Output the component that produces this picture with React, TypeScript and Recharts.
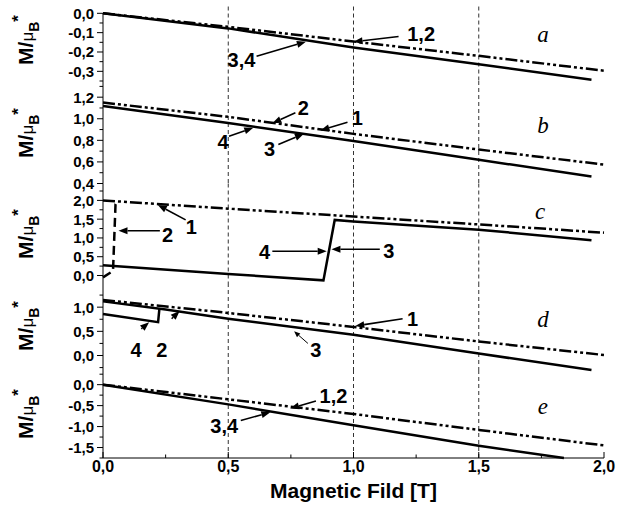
import React from 'react';
import { LineChart, Line, XAxis, YAxis, ReferenceLine, ReferenceDot } from 'recharts';

const W = 617;
const H = 513;
const SANS = '"Liberation Sans", Arial, sans-serif';
const SERIF = '"Liberation Serif", "Times New Roman", serif';
const DASH_DOT2 = '12 3 3 3 3 3';
const DASHED = '9 5';

const guideLines = [0.5, 1.0, 1.5];
const fieldTicks = [0, 0.25, 0.5, 0.75, 1, 1.25, 1.5, 1.75, 2];
const fieldMajor = [0, 0.5, 1, 1.5, 2];

// panel a
const aMajor = [0, -0.1, -0.2, -0.3];
const aMinor = [-0.05, -0.15, -0.25, -0.35];
const a12X = [0, 0.5, 1.0, 1.5, 2.0];
const a12Y = [0, -0.07, -0.146, -0.22, -0.297];
const a34X = [0, 0.5, 1.0, 1.5, 1.95];
const a34Y = [0, -0.078, -0.177, -0.263, -0.344];

// panel b
const bMajor = [1.2, 1.0, 0.8, 0.6, 0.4];
const bMinor = [1.3, 1.1, 0.9, 0.7, 0.5];
const b12X = [0, 0.5, 1.0, 1.5, 2.0];
const b12Y = [1.15, 1.018, 0.86, 0.715, 0.575];
const b34X = [0, 0.5, 1.0, 1.5, 1.95];
const b34Y = [1.118, 0.96, 0.794, 0.62, 0.465];

// panel c
const cMajor = [2.0, 1.5, 1.0, 0.5, 0.0];
const cMinor = [2.25, 1.75, 1.25, 0.75, 0.25];
const c1X = [0, 0.5, 1.0, 1.5, 2.0];
const c1Y = [2.0, 1.78, 1.57, 1.36, 1.14];
const c2X = [0, 0.04, 0.05, 0.06];
const c2Y = [-0.05, 0.12, 1.9, 2.0];
const c34X = [0, 0.5, 0.88, 0.925, 1.0, 1.5, 1.95];
const c34Y = [0.27, 0.04, -0.13, 1.48, 1.44, 1.22, 0.94];

// panel d
const dMajor = [1.0, 0.5, 0.0];
const dMinor = [1.25, 0.75, 0.25, -0.25];
const d1X = [0, 0.5, 1.0, 1.5, 2.0];
const d1Y = [1.15, 0.88, 0.59, 0.29, 0.01];
const d3X = [0, 0.25, 0.5, 1.0, 1.5, 1.95];
const d3Y = [1.12, 0.95, 0.76, 0.43, 0.04, -0.3];
const d4X = [0, 0.22, 0.225];
const d4Y = [0.86, 0.69, 0.96];

// panel e
const eMajor = [0, -0.5, -1.0, -1.5];
const eMinor = [0.25, -0.25, -0.75, -1.25, -1.75];
const e12X = [0, 0.5, 1.0, 1.5, 2.0];
const e12Y = [0, -0.35, -0.7, -1.08, -1.45];
const e34X = [0, 0.5, 1.0, 1.5, 1.84];
const e34Y = [0, -0.47, -0.97, -1.46, -1.75];

type Curve = { xs: number[]; ys: number[]; dash?: string };
type Note = { text: string; at: [number, number]; from?: [number, number]; to?: [number, number]; thin?: boolean };

const toPts = (xs: number[], ys: number[]) => xs.map((x, i) => ({ x, y: ys[i] }));
const fmt = (v: number) => v.toFixed(1).replace('.', ',');
const isIn = (list: number[], v: number) => list.some((m) => Math.abs(m - v) < 1e-6);

const makeYTick = (major: number[]) => (props: any) => {
  const { x, y, payload } = props;
  const big = isIn(major, payload.value);
  return (
    <g>
      <line x1={x - (big ? 6 : 3.5)} x2={x} y1={y} y2={y} stroke="#000" />
      {big && (
        <text x={x - 9} y={y} dy="0.36em" textAnchor="end" fontFamily={SANS} fontWeight="bold" fontSize={15} fill="#000">
          {fmt(payload.value)}
        </text>
      )}
    </g>
  );
};

const TopTick = (props: any) => {
  const { x, y, payload } = props;
  const len = isIn(fieldMajor, payload.value) ? 5 : 3.5;
  return <line x1={x} x2={x} y1={y} y2={y + len} stroke="#000" />;
};

const BottomTick = (props: any) => {
  const { x, y, payload } = props;
  const big = isIn(fieldMajor, payload.value);
  return (
    <g>
      <line x1={x} x2={x} y1={y} y2={y - (big ? 6 : 3.5)} stroke="#000" />
      {big && (
        <text x={x} y={y + 14} textAnchor="middle" fontFamily={SANS} fontWeight="bold" fontSize={16} fill="#000">
          {fmt(payload.value)}
        </text>
      )}
    </g>
  );
};

const arrow = (thin?: boolean) => (p: any) => {
  const { x1, y1, x2, y2 } = p;
  const ang = Math.atan2(y2 - y1, x2 - x1);
  const L = thin ? 6 : 9;
  const hw = thin ? 2.5 : 3.5;
  const bx = x2 - L * Math.cos(ang);
  const by = y2 - L * Math.sin(ang);
  const px = -Math.sin(ang) * hw;
  const py = Math.cos(ang) * hw;
  return (
    <g>
      <line x1={x1} y1={y1} x2={bx} y2={by} stroke="#000" strokeWidth={thin ? 1 : 1.6} />
      <polygon points={`${x2},${y2} ${bx + px},${by + py} ${bx - px},${by - py}`} fill="#000" />
    </g>
  );
};

interface PanelProps {
  top: number;
  bottom: number;
  domain: [number, number];
  major: number[];
  minor: number[];
  curves: Curve[];
  notes: Note[];
  letter: string;
  letterAt: [number, number];
  labelY: number;
  kind: 'first' | 'mid' | 'last';
}

function YLabel({ cy }: { cy: number }) {
  return (
    <text transform={`translate(33, ${cy}) rotate(-90)`} textAnchor="middle" fontFamily={SANS} fontWeight="bold" fontSize={21} fill="#000">
      M/
      <tspan fontSize={17} fontWeight="normal">μ</tspan>
      <tspan fontSize={14} dy={6}>B</tspan>
      <tspan fontSize={17} dy={-15}>*</tspan>
    </text>
  );
}

function Panel(p: PanelProps) {
  const last = p.kind === 'last';
  const margin = { top: p.top, right: 13, left: 0, bottom: last ? 0 : H - p.bottom };
  const ticks = [...p.major, ...p.minor].sort((a, b) => a - b);
  return (
    <div style={{ position: 'absolute', left: 0, top: 0 }}>
      <LineChart width={W} height={H} margin={margin}>
        {p.kind === 'first' && (
          <XAxis xAxisId="m" dataKey="x" type="number" domain={[0, 2]} height={0} tick={false} tickLine={false} axisLine={{ stroke: '#000' }} />
        )}
        {p.kind === 'mid' && (
          <XAxis
            xAxisId="m"
            dataKey="x"
            type="number"
            orientation="top"
            domain={[0, 2]}
            height={0}
            ticks={fieldTicks}
            interval={0}
            tickSize={0}
            tickMargin={0}
            tickLine={false}
            tick={TopTick}
            axisLine={{ stroke: '#000' }}
          />
        )}
        {last && (
          <XAxis
            xAxisId="t"
            dataKey="x"
            type="number"
            orientation="top"
            domain={[0, 2]}
            height={0}
            ticks={fieldTicks}
            interval={0}
            tickSize={0}
            tickMargin={0}
            tickLine={false}
            tick={TopTick}
            axisLine={{ stroke: '#000' }}
          />
        )}
        {last && (
          <XAxis
            xAxisId="m"
            dataKey="x"
            type="number"
            domain={[0, 2]}
            height={H - p.bottom}
            ticks={fieldTicks}
            interval={0}
            tickSize={0}
            tickMargin={0}
            tickLine={false}
            tick={BottomTick}
            axisLine={{ stroke: '#000' }}
            label={(lp: any) => {
              const vb = lp.viewBox || {};
              return (
                <text x={vb.x + vb.width / 2} y={p.bottom + 40} textAnchor="middle" fontFamily={SANS} fontWeight="bold" fontSize={21} fill="#000">
                  Magnetic Fild [T]
                </text>
              );
            }}
          />
        )}
        <YAxis
          type="number"
          domain={p.domain}
          ticks={ticks}
          interval={0}
          width={103}
          tickSize={0}
          tickMargin={0}
          tickLine={false}
          tick={makeYTick(p.major)}
          axisLine={{ stroke: '#000' }}
          label={() => <YLabel cy={p.labelY} />}
        />
        {guideLines.map((g) =>
          p.kind === 'first' ? (
            <ReferenceLine
              key={g}
              xAxisId="m"
              segment={[{ x: g, y: p.domain[1] + 0.035 }, { x: g, y: p.domain[0] }]}
              ifOverflow="visible"
              stroke="#333"
              strokeDasharray="4 3"
            />
          ) : (
            <ReferenceLine key={g} xAxisId="m" x={g} stroke="#333" strokeDasharray="4 3" />
          )
        )}
        {p.curves.map((c, i) => (
          <Line
            key={i}
            xAxisId="m"
            data={toPts(c.xs, c.ys)}
            dataKey="y"
            type="linear"
            stroke="#000"
            strokeWidth={2.5}
            strokeDasharray={c.dash}
            dot={false}
            activeDot={false}
            isAnimationActive={false}
          />
        ))}
        {p.notes.map((n, i) =>
          n.from && n.to ? (
            <ReferenceLine
              key={'a' + i}
              xAxisId="m"
              segment={[{ x: n.from[0], y: n.from[1] }, { x: n.to[0], y: n.to[1] }]}
              ifOverflow="visible"
              shape={arrow(n.thin)}
            />
          ) : null
        )}
        {p.notes.map((n, i) => (
          <ReferenceDot
            key={'t' + i}
            xAxisId="m"
            x={n.at[0]}
            y={n.at[1]}
            r={0}
            ifOverflow="visible"
            shape={(s: any) => (
              <text x={s.cx} y={s.cy} dy="0.36em" textAnchor="middle" fontFamily={SANS} fontWeight="bold" fontSize={20} fill="#000">
                {n.text}
              </text>
            )}
          />
        ))}
        <ReferenceDot
          xAxisId="m"
          x={p.letterAt[0]}
          y={p.letterAt[1]}
          r={0}
          ifOverflow="visible"
          shape={(s: any) => (
            <text x={s.cx} y={s.cy} dy="0.3em" textAnchor="middle" fontFamily={SERIF} fontStyle="italic" fontSize={23} fill="#000">
              {p.letter}
            </text>
          )}
        />
      </LineChart>
    </div>
  );
}

export default function App() {
  return (
    <div style={{ position: 'absolute', left: 0, top: 0, width: W, height: H, background: '#fff', overflow: 'hidden' }}>
      <Panel
        kind="first"
        top={13.3}
        bottom={81}
        domain={[-0.35, 0]}
        major={aMajor}
        minor={aMinor}
        labelY={40}
        letter="a"
        letterAt={[1.756, -0.112]}
        curves={[
          { xs: a12X, ys: a12Y, dash: DASH_DOT2 },
          { xs: a34X, ys: a34Y },
        ]}
        notes={[
          { text: '1,2', at: [1.27, -0.105], from: [1.18, -0.12], to: [1.0, -0.147] },
          { text: '3,4', at: [0.553, -0.24], from: [0.613, -0.222], to: [0.81, -0.147] },
        ]}
      />
      <Panel
        kind="mid"
        top={81}
        bottom={183.5}
        domain={[0.4, 1.35]}
        major={bMajor}
        minor={bMinor}
        labelY={133}
        letter="b"
        letterAt={[1.756, 0.93]}
        curves={[
          { xs: b12X, ys: b12Y, dash: DASH_DOT2 },
          { xs: b34X, ys: b34Y },
        ]}
        notes={[
          { text: '2', at: [0.8, 1.1], from: [0.768, 1.055], to: [0.676, 0.958] },
          { text: '1', at: [1.015, 1.006], from: [0.976, 0.967], to: [0.868, 0.892] },
          { text: '4', at: [0.479, 0.786], from: [0.503, 0.837], to: [0.6, 0.916] },
          { text: '3', at: [0.665, 0.717], from: [0.7, 0.762], to: [0.802, 0.862] },
        ]}
      />
      <Panel
        kind="mid"
        top={183.5}
        bottom={283}
        domain={[-0.2, 2.45]}
        major={cMajor}
        minor={cMinor}
        labelY={234}
        letter="c"
        letterAt={[1.745, 1.68]}
        curves={[
          { xs: c1X, ys: c1Y, dash: DASH_DOT2 },
          { xs: c2X, ys: c2Y, dash: DASHED },
          { xs: c34X, ys: c34Y },
        ]}
        notes={[
          { text: '1', at: [0.353, 1.3], from: [0.33, 1.48], to: [0.219, 1.88] },
          { text: '2', at: [0.258, 1.094], from: [0.227, 1.19], to: [0.062, 1.19] },
          { text: '4', at: [0.645, 0.628], from: [0.676, 0.646], to: [0.893, 0.646] },
          { text: '3', at: [1.141, 0.655], from: [1.105, 0.7], to: [0.912, 0.7] },
        ]}
      />
      <Panel
        kind="mid"
        top={283}
        bottom={370}
        domain={[-0.3, 1.5]}
        major={dMajor}
        minor={dMinor}
        labelY={326}
        letter="d"
        letterAt={[1.756, 0.73]}
        curves={[
          { xs: d1X, ys: d1Y, dash: DASH_DOT2 },
          { xs: d3X, ys: d3Y },
          { xs: d4X, ys: d4Y },
        ]}
        notes={[
          { text: '1', at: [1.236, 0.76], from: [1.196, 0.76], to: [1.007, 0.61] },
          { text: '3', at: [0.85, 0.12], from: [0.818, 0.25], to: [0.763, 0.5], thin: true },
          { text: '4', at: [0.132, 0.12], from: [0.153, 0.55], to: [0.184, 0.69] },
          { text: '2', at: [0.235, 0.12], from: [0.274, 0.76], to: [0.306, 0.92] },
        ]}
      />
      <Panel
        kind="last"
        top={370}
        bottom={458}
        domain={[-1.75, 0.35]}
        major={eMajor}
        minor={eMinor}
        labelY={414}
        letter="e"
        letterAt={[1.756, -0.53]}
        curves={[
          { xs: e12X, ys: e12Y, dash: DASH_DOT2 },
          { xs: e34X, ys: e34Y },
        ]}
        notes={[
          { text: '1,2', at: [0.92, -0.256], from: [0.85, -0.39], to: [0.747, -0.567] },
          { text: '3,4', at: [0.484, -0.97], from: [0.55, -0.855], to: [0.668, -0.66] },
        ]}
      />
    </div>
  );
}
